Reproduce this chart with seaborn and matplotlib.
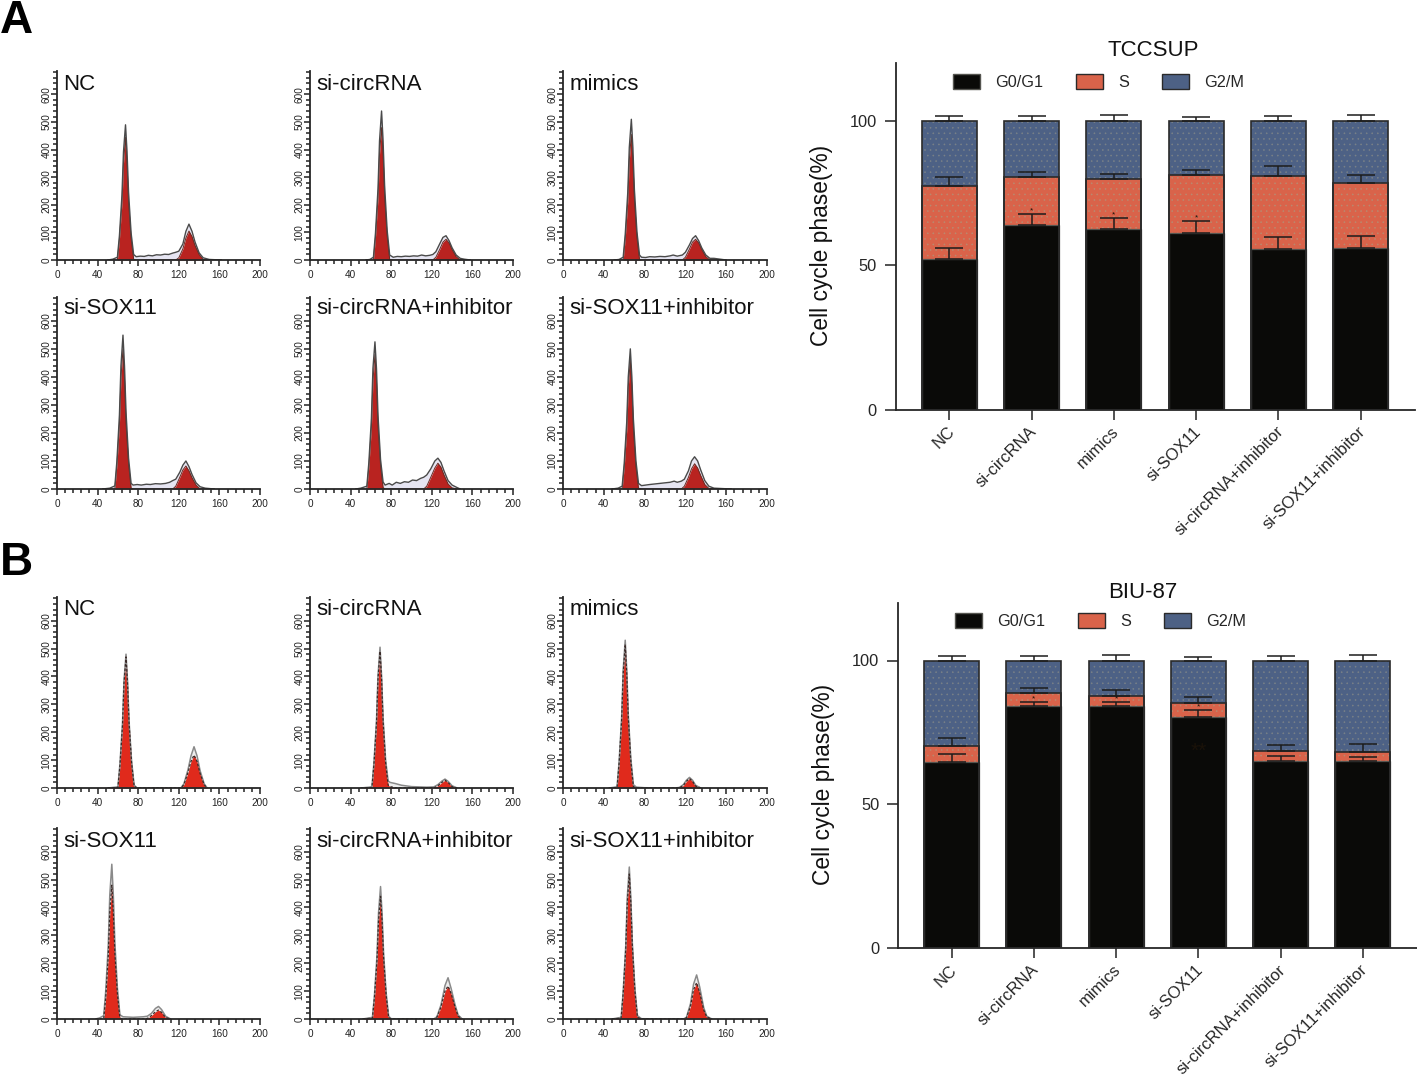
"""
Cell cycle flow cytometry histograms and stacked phase bars for TCCSUP and BIU-87.
"""
import numpy as np
import pandas as pd
import seaborn as sns
import matplotlib.pyplot as plt

from matplotlib.patches import Patch
from matplotlib.ticker import MultipleLocator
from matplotlib.transforms import ScaledTranslation

W, H = 1417, 1076

groups = ["NC", "si-circRNA", "mimics", "si-SOX11", "si-circRNA+inhibitor", "si-SOX11+inhibitor"]
hist_xticks = [0, 40, 80, 120, 160, 200]
hist_yticks = [0, 100, 200, 300, 400, 500, 600]

# histogram traces: channel, outer trace, red fit
a_nc_x = [50, 55, 59.5, 61.5, 64, 65.5, 67.5, 69, 70.5, 73, 75.5, 78, 82, 86, 90, 94, 98, 102, 106, 110, 114, 117, 120, 124, 127, 130, 133, 136, 140, 144, 150, 162]
a_nc_out = [0, 3, 10, 88, 235, 392, 490, 392, 245, 98, 20, 12, 14, 13, 17, 15, 19, 18, 21, 20, 25, 28, 32, 58, 104, 130, 104, 65, 26, 8, 2, 0]
a_nc_red = [0, 0, 0, 75, 205, 350, 445, 350, 210, 80, 3, 0, 0, 0, 0, 0, 0, 0, 0, 0, 0, 0, 8, 40, 80, 105, 85, 52, 20, 2, 0, 0]

a_circ_x = [55, 59, 62.5, 64.5, 67, 68.5, 70.5, 72, 73.5, 76, 78.5, 82, 86, 90, 94, 98, 102, 106, 110, 114, 118, 121, 124, 128, 131, 134, 137, 140, 144, 148, 152, 158]
a_circ_out = [0, 2, 10, 97, 259, 432, 540, 432, 270, 108, 18, 10, 13, 12, 14, 13, 15, 14, 18, 15, 17, 20, 30, 60, 82, 88, 70, 44, 18, 6, 3, 0]
a_circ_red = [0, 0, 0, 82, 225, 385, 480, 385, 230, 88, 2, 0, 0, 0, 0, 0, 0, 0, 0, 0, 0, 0, 10, 40, 65, 75, 62, 38, 12, 0, 0, 0]

a_mim_x = [50, 55, 59, 61, 63.5, 65, 67, 68.5, 70, 72.5, 75, 77, 81, 85, 90, 95, 100, 105, 108, 112, 117, 120, 124, 127, 130, 133, 136, 140, 144, 148, 160]
a_mim_out = [0, 2, 10, 92, 245, 408, 510, 408, 255, 102, 18, 10, 9, 12, 11, 13, 12, 15, 18, 14, 18, 28, 55, 78, 88, 70, 44, 18, 6, 6, 0]
a_mim_red = [0, 0, 0, 78, 212, 362, 455, 362, 218, 82, 2, 0, 0, 0, 0, 0, 0, 0, 0, 0, 0, 10, 40, 65, 75, 62, 38, 12, 0, 0, 0]

a_sox_x = [45, 52, 57, 59, 61.5, 63, 65, 66.5, 68, 70.5, 73, 75, 79, 83, 88, 92, 97, 102, 107, 111, 114, 117, 121, 124, 127, 130, 133, 137, 141, 146, 155]
a_sox_out = [0, 3, 11, 99, 264, 439, 549, 439, 275, 110, 20, 14, 16, 14, 17, 16, 19, 18, 20, 24, 30, 35, 60, 85, 100, 80, 52, 22, 8, 3, 0]
a_sox_red = [0, 0, 0, 85, 230, 395, 500, 395, 235, 90, 3, 0, 0, 0, 0, 0, 0, 0, 0, 0, 0, 10, 42, 68, 82, 65, 40, 14, 0, 0, 0]

a_circinh_x = [45, 50, 56, 58, 60.5, 62, 64, 65.5, 67, 69.5, 72, 74, 78, 81, 85, 89, 93, 97, 101, 105, 109, 112, 115, 119, 123, 126, 129, 132, 136, 140, 145, 148]
a_circinh_out = [0, 3, 10, 95, 252, 430, 525, 430, 262, 105, 25, 14, 20, 14, 24, 20, 26, 24, 32, 30, 38, 42, 50, 72, 100, 110, 95, 65, 30, 14, 5, 0]
a_circinh_red = [0, 0, 0, 80, 220, 385, 480, 385, 225, 85, 5, 0, 0, 0, 0, 0, 0, 0, 0, 0, 0, 0, 10, 42, 75, 92, 78, 50, 18, 4, 0, 0]

a_soxinh_x = [48, 54, 58, 60, 62.5, 64, 66, 67.5, 69, 71.5, 74, 77, 81, 85, 90, 95, 100, 105, 109, 112, 116, 119, 123, 126, 129, 132, 135, 139, 143, 148, 165]
a_soxinh_out = [0, 3, 10, 90, 240, 400, 500, 400, 250, 100, 20, 12, 14, 16, 18, 20, 22, 24, 28, 24, 28, 35, 65, 100, 115, 100, 68, 30, 10, 3, 0]
a_soxinh_red = [0, 0, 0, 78, 210, 365, 460, 365, 215, 80, 3, 0, 0, 0, 0, 0, 0, 0, 0, 0, 0, 10, 42, 72, 90, 75, 48, 16, 2, 0, 0]

b_nc_x = [50, 60, 62, 64.5, 66, 68, 69.5, 71, 73.5, 76, 79, 115, 122, 125, 129, 132, 135, 138, 141, 145, 148]
b_nc_out = [0, 4, 86, 230, 384, 480, 384, 240, 96, 10, 0, 0, 0, 15, 65, 115, 148, 115, 62, 15, 0]
b_nc_red = [0, 2, 80, 222, 375, 470, 375, 232, 90, 6, 0, 0, 0, 12, 55, 95, 118, 95, 52, 12, 0]

b_circ_x = [50, 61, 63, 65.5, 67, 69, 70.5, 72, 74.5, 77, 79, 84, 90, 100, 115, 122, 126, 130, 133, 136, 140, 145]
b_circ_out = [0, 4, 91, 242, 404, 505, 404, 252, 101, 25, 20, 16, 10, 5, 3, 4, 12, 25, 32, 24, 8, 0]
b_circ_red = [0, 2, 85, 232, 392, 490, 392, 240, 90, 10, 5, 1, 0, 0, 0, 0, 8, 20, 28, 20, 5, 0]

b_mim_x = [45, 53, 55, 57.5, 59, 61, 62.5, 64, 66.5, 69, 72, 80, 110, 114, 118, 121, 124, 127, 130, 135]
b_mim_out = [0, 4, 95, 254, 424, 530, 424, 265, 106, 12, 3, 1, 0, 2, 12, 28, 38, 28, 10, 0]
b_mim_red = [0, 2, 88, 245, 410, 515, 410, 252, 95, 5, 0, 0, 0, 0, 9, 24, 34, 24, 7, 0]

b_sox_x = [38, 42, 46, 48, 50.5, 52, 54, 55.5, 57, 59.5, 62, 65, 75, 85, 89, 93, 97, 100, 103, 107, 112]
b_sox_out = [0, 4, 12, 100, 266, 444, 555, 444, 277, 111, 15, 8, 6, 8, 10, 20, 38, 45, 34, 10, 0]
b_sox_red = [0, 0, 0, 75, 225, 380, 480, 380, 235, 90, 3, 0, 0, 0, 2, 12, 26, 32, 24, 5, 0]

b_circinh_x = [52, 61.5, 63.5, 66, 67.5, 69.5, 71, 72.5, 75, 77.5, 80, 122, 125, 129, 133, 136, 139, 143, 146, 150]
b_circinh_out = [0, 6, 85, 228, 380, 475, 380, 237, 95, 10, 1, 0, 8, 50, 120, 148, 110, 50, 14, 0]
b_circinh_red = [0, 3, 78, 210, 352, 440, 352, 220, 85, 5, 0, 0, 6, 42, 100, 118, 92, 42, 10, 0]

b_soxinh_x = [48, 57, 59, 61.5, 63, 65, 66.5, 68, 70.5, 73, 77, 118, 121, 125, 128, 131, 134, 138, 141, 146]
b_soxinh_out = [0, 6, 98, 262, 436, 545, 436, 272, 109, 12, 1, 0, 6, 55, 125, 158, 115, 40, 10, 0]
b_soxinh_red = [0, 3, 92, 250, 416, 520, 416, 260, 100, 6, 0, 0, 4, 45, 105, 130, 95, 32, 7, 0]

# stacked bars: top of each phase and top of its error bar, in percent
tccsup_g0 = [52.2, 64.0, 62.6, 61.3, 55.5, 56.0]
tccsup_s = [77.4, 80.7, 79.9, 81.4, 80.8, 78.3]
tccsup_g2 = [100, 100, 100, 100, 100, 100]
tccsup_g0_err = [56.0, 67.8, 66.3, 65.3, 59.7, 60.0]
tccsup_s_err = [80.6, 82.2, 81.5, 83.1, 84.4, 81.4]
tccsup_g2_err = [101.6, 101.6, 102.0, 101.4, 101.5, 101.9]

biu_g0 = [64.8, 84.2, 84.2, 80.5, 65.1, 65.1]
biu_s = [70.4, 88.6, 87.5, 85.1, 68.5, 68.3]
biu_g2 = [100, 100, 100, 100, 100, 100]
biu_g0_err = [67.6, 85.5, 85.7, 82.7, 66.7, 66.5]
biu_s_err = [73.2, 90.3, 89.8, 87.2, 70.6, 71.0]
biu_g2_err = [101.5, 101.7, 102.0, 101.2, 101.6, 101.9]

BLACK, ORANGE, BLUE = "#0a0a08", "#d9634a", "#4d6185"
DARK = "#2a2a2a"
# stipple dots sit close to the fill colour
DOTS = {"g2": "#7a8288", "s": "#b98a70"}

sns.set_style("ticks")
plt.rcParams["font.family"] = ["Liberation Sans", "DejaVu Sans"]
plt.rcParams["hatch.linewidth"] = 0.4
plt.rcParams["axes.linewidth"] = 1.3

fig = plt.figure(figsize=(W / 100, H / 100), dpi=100)


def add_axes_px(left, top, right, bottom):
    return fig.add_axes([left / W, 1 - bottom / H, (right - left) / W, (bottom - top) / H])


def plot_hist(box, label, label_y, x, out, red, red_color, lav, clean):
    ax = add_axes_px(*box)
    ax.patch.set_alpha(0)
    ax.fill_between(x, red, out, color=lav, lw=0)
    ax.fill_between(x, 0, red, color=red_color, lw=0)
    if clean:
        # panel B: pale outer trace, dashed dark edge on the fit
        sns.lineplot(x=x, y=out, ax=ax, color="#8a8a8a", lw=1.1, estimator=None, sort=False)
        sns.lineplot(x=x, y=red, ax=ax, color="#3a2a28", lw=0.9, estimator=None, sort=False, linestyle=(0, (2, 1.5)))
    else:
        sns.lineplot(x=x, y=red, ax=ax, color="#6a2a22", lw=0.7, estimator=None, sort=False)
        sns.lineplot(x=x, y=out, ax=ax, color="#4a4a4a", lw=1.0, estimator=None, sort=False)
    ax.set_xlim(0, 200)
    ax.set_ylim(0, 685)
    ax.set_xticks(hist_xticks)
    ax.set_yticks(hist_yticks)
    ax.xaxis.set_minor_locator(MultipleLocator(8))
    ax.yaxis.set_minor_locator(MultipleLocator(20))
    ax.tick_params(which="major", length=4.5, width=1.1, labelsize=7.2, color="#222222", labelcolor="#222222")
    ax.tick_params(which="minor", length=2.6, width=1.1, color="#222222")
    ax.tick_params(axis="x", which="major", pad=3)
    ax.tick_params(axis="y", which="major", pad=-0.5)
    plt.setp(ax.get_yticklabels(), rotation=90, va="center")
    sns.despine(ax=ax)
    ax.text(6.5 / 203, label_y, label, transform=ax.transAxes, fontsize=16.0, ha="left", va="center", color="#111111")


def plot_stack(box, title, title_xy, g0, s, g2, g0_err, s_err, g2_err, legend_xy, stars):
    ax = add_axes_px(*box)
    df = pd.DataFrame({"group": groups, "g0": g0, "s": s, "g2": g2})
    # draw tallest first so the shorter phases sit on top
    for col, color in [("g2", BLUE), ("s", ORANGE), ("g0", BLACK)]:
        n_before = len(ax.patches)
        sns.barplot(data=df, x="group", y=col, ax=ax, color=color, width=0.67, errorbar=None, saturation=1)
        for bar in ax.patches[n_before:]:
            bar.set_facecolor(color)
            if col == "g0":
                bar.set_edgecolor("#555550")
                bar.set_linewidth(0.9)
            else:
                bar.set_edgecolor(DOTS[col])
                bar.set_hatch("...")
                bar.set_linewidth(0)
                ax.add_patch(plt.Rectangle(bar.get_xy(), bar.get_width(), bar.get_height(),
                                           fill=False, edgecolor=DARK, lw=1.2, zorder=3))
    xs = np.arange(len(groups))
    for top, err in [(g0, g0_err), (s, s_err), (g2, g2_err)]:
        top, err = np.array(top), np.array(err)
        ax.errorbar(xs, top, yerr=[np.zeros(len(xs)), err - top], fmt="none", ecolor="#1c1c1c",
                    elinewidth=1.1, capsize=10, capthick=1.1, zorder=4)
    for i, y, txt, size in stars:
        ax.text(i, y, txt, fontsize=size, ha="center", va="center", color="#1a1208", zorder=5)
    ax.set_xlim(-0.654, 5.66)
    ax.set_ylim(0, 120)
    ax.set_yticks([0, 50, 100])
    ax.set_xlabel("")
    ax.set_ylabel("Cell cycle phase(%)", fontsize=16.4, labelpad=12, y=0.475, color="#111111")
    ax.tick_params(axis="y", length=7.9, width=1.2, labelsize=11.8, pad=5.5, color="#333333")
    ax.tick_params(axis="x", length=7.2, width=1.2, labelsize=12.0, pad=3, color="#333333")
    shift = ScaledTranslation(-2 / 72, 0, fig.dpi_scale_trans)
    for lab in ax.get_xticklabels():
        lab.set_rotation(45)
        lab.set_ha("right")
        lab.set_rotation_mode("anchor")
        lab.set_transform(lab.get_transform() + shift)
    sns.despine(ax=ax)
    fig.text(title_xy[0] / W, 1 - title_xy[1] / H, title, fontsize=16, ha="center", va="center", color="#111111")
    handles = [Patch(facecolor=BLACK, edgecolor="#555550", label="G0/G1"),
               Patch(facecolor=ORANGE, edgecolor=DARK, label="S"),
               Patch(facecolor=BLUE, edgecolor=DARK, label="G2/M")]
    fig.legend(handles=handles, ncol=3, frameon=False, fontsize=11.7, loc="upper left",
               bbox_to_anchor=(legend_xy[0] / W, 1 - legend_xy[1] / H), borderaxespad=0, borderpad=0,
               handlelength=1.66, handleheight=1.0, handletextpad=0.92, columnspacing=2.05)
    return ax


columns = [(57, 260), (310, 513), (563, 767)]
rows_a = [(71, 260), (297, 489)]
rows_b = [(597, 788), (828, 1019)]
label_ys_a = [0.93, 0.94]
label_ys_b = [0.937, 0.93]

panels_a = [(a_nc_x, a_nc_out, a_nc_red), (a_circ_x, a_circ_out, a_circ_red), (a_mim_x, a_mim_out, a_mim_red),
            (a_sox_x, a_sox_out, a_sox_red), (a_circinh_x, a_circinh_out, a_circinh_red),
            (a_soxinh_x, a_soxinh_out, a_soxinh_red)]
panels_b = [(b_nc_x, b_nc_out, b_nc_red), (b_circ_x, b_circ_out, b_circ_red), (b_mim_x, b_mim_out, b_mim_red),
            (b_sox_x, b_sox_out, b_sox_red), (b_circinh_x, b_circinh_out, b_circinh_red),
            (b_soxinh_x, b_soxinh_out, b_soxinh_red)]

for rows, label_ys, panels, red_color, lav, clean in [(rows_a, label_ys_a, panels_a, "#b92320", "#e6e5f2", False),
                                                      (rows_b, label_ys_b, panels_b, "#e02a1c", "#eeeeee", True)]:
    for i, (x, out, red) in enumerate(panels):
        left, right = columns[i % 3]
        top, bottom = rows[i // 3]
        plot_hist((left, top, right, bottom), groups[i], label_ys[i // 3], x, out, red, red_color, lav, clean)

plot_stack((895.6, 63, 1415, 409.7), "TCCSUP", (1153, 50), tccsup_g0, tccsup_s, tccsup_g2,
           tccsup_g0_err, tccsup_s_err, tccsup_g2_err, (953, 74),
           [(1, 68.9, "*", 6), (2, 67.4, "*", 6), (3, 66.4, "*", 6)])
plot_stack((898, 603, 1417, 948), "BIU-87", (1143, 592), biu_g0, biu_s, biu_g2,
           biu_g0_err, biu_s_err, biu_g2_err, (955, 613),
           [(1, 86.7, "*", 6), (2, 86.7, "*", 6), (3, 84.0, "*", 6), (3, 68.5, "**", 15)])

fig.text(0 / W, 1 - 33 / H, "A", fontsize=33, fontweight="bold", ha="left", va="baseline", color="black")
fig.text(0 / W, 1 - 575 / H, "B", fontsize=33, fontweight="bold", ha="left", va="baseline", color="black")

fig.savefig("out.png", dpi=100)
